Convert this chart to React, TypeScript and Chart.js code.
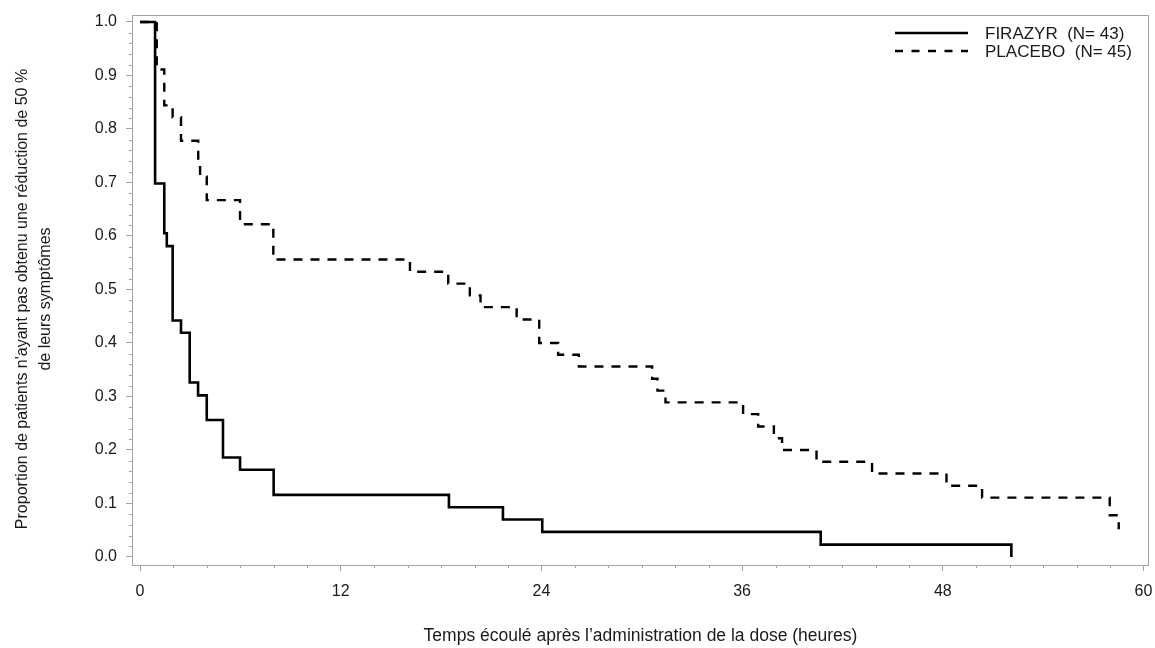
import React, { useEffect, useRef } from 'react';
import { Chart, registerables } from 'chart.js';

Chart.register(...registerables);

// ---- data ----
const firazyrTime = [0, 0.9, 1.45, 1.6, 1.95, 2.45, 2.97, 3.47, 3.99, 4.96, 5.98, 7.99, 18.47, 21.7, 24.05, 40.7, 52.1];
const firazyrSurv = [1.0, 0.698, 0.605, 0.581, 0.442, 0.419, 0.326, 0.302, 0.256, 0.186, 0.163, 0.116, 0.093, 0.07, 0.047, 0.023, 0.0];

const placeboTime = [0, 1.0, 1.45, 1.95, 2.45, 3.48, 3.59, 3.99, 5.98, 7.97, 16.14, 18.43, 19.72, 20.36, 22.52, 23.87, 25.0, 26.24, 30.62, 30.94, 31.42, 36.06, 36.96, 37.9, 38.39, 40.45, 43.77, 48.22, 50.35, 57.98, 58.52];
const placeboSurv = [1.0, 0.911, 0.844, 0.822, 0.778, 0.733, 0.711, 0.667, 0.622, 0.556, 0.533, 0.511, 0.489, 0.467, 0.444, 0.4, 0.378, 0.356, 0.333, 0.311, 0.289, 0.267, 0.244, 0.222, 0.2, 0.178, 0.156, 0.133, 0.111, 0.078, 0.052];

const xMajorTicks = [0, 12, 24, 36, 48, 60];
const xMinorTicks = [2, 4, 6, 8, 10, 14, 16, 18, 20, 22, 26, 28, 30, 32, 34, 38, 40, 42, 44, 46, 50, 52, 54, 56, 58];
const yMajorTicks = [0, 0.1, 0.2, 0.3, 0.4, 0.5, 0.6, 0.7, 0.8, 0.9, 1.0];
const yMinorTicks = [
  0.02, 0.04, 0.06, 0.08, 0.12, 0.14, 0.16, 0.18, 0.22, 0.24, 0.26, 0.28,
  0.32, 0.34, 0.36, 0.38, 0.42, 0.44, 0.46, 0.48, 0.52, 0.54, 0.56, 0.58,
  0.62, 0.64, 0.66, 0.68, 0.72, 0.74, 0.76, 0.78, 0.82, 0.84, 0.86, 0.88,
  0.92, 0.94, 0.96, 0.98,
];

const seriesLabels = ['FIRAZYR  (N= 43)', 'PLACEBO  (N= 45)'];
const xTitle = 'Temps écoulé après l’administration de la dose (heures)';
const yTitleLines = ["Proportion de patients n'ayant pas obtenu une réduction de 50 %", 'de leurs symptômes'];

const FONT = '"Liberation Sans", Arial, sans-serif';
const FRAME = '#a3a3a3';
const TEXT = '#1a1a1a';
const DASH = [9, 8];

const decorPlugin = {
  id: 'decor',
  beforeDatasetsDraw(chart: any) {
    const { ctx, chartArea } = chart;
    const xs = chart.scales.x;
    const ys = chart.scales.y;
    ctx.save();
    ctx.strokeStyle = FRAME;
    ctx.lineWidth = 1;
    ctx.strokeRect(chartArea.left + 0.5, chartArea.top + 0.5, chartArea.right - chartArea.left - 1, chartArea.bottom - chartArea.top);
    ctx.beginPath();
    xMinorTicks.forEach((v) => {
      const px = Math.round(xs.getPixelForValue(v)) + 0.5;
      ctx.moveTo(px, chartArea.bottom);
      ctx.lineTo(px, chartArea.bottom + 3);
    });
    yMinorTicks.forEach((v) => {
      const py = Math.round(ys.getPixelForValue(v)) + 0.5;
      ctx.moveTo(chartArea.left, py);
      ctx.lineTo(chartArea.left - 3, py);
    });
    ctx.stroke();
    ctx.restore();
  },
  afterDraw(chart: any) {
    const { ctx, chartArea } = chart;
    ctx.save();
    // legend
    const lx0 = 895;
    const lx1 = lx0 + 73;
    const rows = [33, 51];
    ctx.strokeStyle = '#000';
    ctx.lineWidth = 2.4;
    rows.forEach((ry, i) => {
      ctx.setLineDash(i === 0 ? [] : [8, 8.5]);
      ctx.beginPath();
      ctx.moveTo(lx0, ry);
      ctx.lineTo(lx1, ry);
      ctx.stroke();
    });
    ctx.setLineDash([]);
    ctx.fillStyle = TEXT;
    ctx.font = `17px ${FONT}`;
    ctx.textAlign = 'left';
    ctx.textBaseline = 'middle';
    rows.forEach((ry, i) => {
      ctx.fillText(seriesLabels[i], lx1 + 17, ry + 1);
    });
    // x title
    ctx.font = `17.5px ${FONT}`;
    ctx.textAlign = 'center';
    ctx.fillText(xTitle, (chartArea.left + chartArea.right) / 2, 636);
    // y title
    ctx.font = `16px ${FONT}`;
    const cy = 299;
    ctx.translate(23, cy);
    ctx.rotate(-Math.PI / 2);
    ctx.fillText(yTitleLines[0], 0, 0);
    ctx.fillText(yTitleLines[1], 0, 23);
    ctx.restore();
  },
};

export default function App() {
  const canvasRef = useRef<HTMLCanvasElement | null>(null);

  useEffect(() => {
    const canvas = canvasRef.current;
    if (!canvas) return;
    const chart = new Chart(canvas, {
      type: 'line',
      data: {
        datasets: [
          {
            label: seriesLabels[0],
            data: firazyrTime.map((t, i) => ({ x: t, y: firazyrSurv[i] })),
            borderColor: '#000',
            borderWidth: 2.6,
            stepped: 'before',
            pointRadius: 0,
            fill: false,
          },
          {
            label: seriesLabels[1],
            data: placeboTime.map((t, i) => ({ x: t, y: placeboSurv[i] })),
            borderColor: '#000',
            borderWidth: 2.4,
            borderDash: DASH,
            stepped: 'before',
            pointRadius: 0,
            fill: false,
          },
        ],
      },
      options: {
        animation: false,
        responsive: true,
        maintainAspectRatio: false,
        layout: { padding: { top: 15, right: 6, left: 0, bottom: 0 } },
        plugins: { legend: { display: false }, tooltip: { enabled: false } },
        scales: {
          x: {
            type: 'linear',
            min: -0.48,
            max: 60.33,
            afterBuildTicks: (scale: any) => {
              scale.ticks = xMajorTicks.map((v) => ({ value: v }));
            },
            afterFit: (scale: any) => {
              scale.height = 83;
              scale.paddingLeft = 0;
              scale.paddingRight = 0;
            },
            ticks: {
              font: { family: FONT, size: 16 },
              color: TEXT,
              padding: 11,
              maxRotation: 0,
              autoSkip: false,
              callback: (v: any) => String(v),
            },
            grid: { drawOnChartArea: false, drawTicks: true, tickLength: 6, color: FRAME },
            border: { display: false },
          },
          y: {
            type: 'linear',
            min: -0.015,
            max: 1.013,
            afterBuildTicks: (scale: any) => {
              scale.ticks = yMajorTicks.map((v) => ({ value: v }));
            },
            afterFit: (scale: any) => {
              scale.width = 132;
              scale.paddingTop = 0;
              scale.paddingBottom = 0;
            },
            ticks: {
              font: { family: FONT, size: 16 },
              color: TEXT,
              padding: 9,
              autoSkip: false,
              callback: (v: any) => Number(v).toFixed(1),
            },
            grid: { drawOnChartArea: false, drawTicks: true, tickLength: 6, color: FRAME },
            border: { display: false },
          },
        },
      },
      plugins: [decorPlugin],
    } as any);
    return () => chart.destroy();
  }, []);

  return (
    <div style={{ position: 'absolute', left: 0, top: 0, width: 1155, height: 648, background: '#fff' }}>
      <canvas ref={canvasRef} />
    </div>
  );
}
